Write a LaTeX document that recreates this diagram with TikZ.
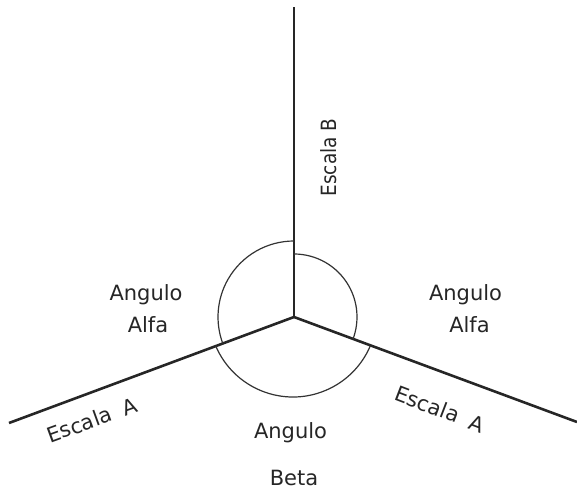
\documentclass[tikz,border=0pt]{standalone}
\usepackage{fontspec}
\usepackage{graphicx}
\setmainfont{DejaVu Sans}
\begin{document}
\begin{tikzpicture}[x=1pt, y=1pt,
    eje/.style={line width=2.6pt, black!85},
    arco/.style={line width=1.2pt, black!80},
    rotulo/.style={font=\fontsize{21}{25}\selectfont, text=black!85, inner sep=0pt}]
    \useasboundingbox (0,0) rectangle (577,495);
    % Ejes
    \coordinate (O) at (294,178);
    \coordinate (B) at (294,488);
    \coordinate (Aizq) at (9,72);
    \coordinate (Ader) at (577,73);
    \draw[eje] (O) -- (B);
    \draw[eje] (O) -- (Aizq);
    \draw[eje] (O) -- (Ader);
    % Arcos de los angulos
    \draw[arco] ([shift={(90:76)}]O) arc[start angle=90, end angle=200.4, radius=76];
    \draw[arco] ([shift={(90:63)}]O) arc[start angle=90, end angle=-20.4, radius=63];
    \draw[arco] ([shift={(203:84)}]293,182) arc[start angle=203, end angle=337, radius=84];
    % Rotulos
    \node[rotulo, anchor=base] (angIzq) at (146,194) {Angulo};
    \node[rotulo, anchor=base] (alfaIzq) at (148,162) {Alfa};
    \node[rotulo, anchor=base] (angDer) at (465.5,194) {Angulo};
    \node[rotulo, anchor=base] (alfaDer) at (469.5,162) {Alfa};
    \node[rotulo, anchor=base] (angInf) at (290.5,57) {Angulo};
    \node[rotulo, anchor=base] (beta) at (294,10) {Beta};
    \node[rotulo, rotate=90] (escB) at (329,337.5) {\scalebox{0.88}[1]{Escala B}};
    \node[rotulo, rotate=20] (escAizq) at (92,75) {Escala\hspace{0.6em}A};
    \node[rotulo, rotate=-21] (escAder) at (440,86) {Escala\hspace{0.6em}A};
\end{tikzpicture}
\end{document}
